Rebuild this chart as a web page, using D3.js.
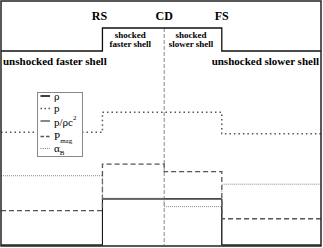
<!DOCTYPE html>
<html>
<head>
<meta charset="utf-8">
<script src="https://cdn.jsdelivr.net/npm/d3@7"></script>
<style>
  body { margin: 0; background: #fff; }
</style>
</head>
<body>
<div class="chart"></div>
<script>
// region boundaries along the shell (fraction of width): start, RS, CD, FS, end
const edges = [0, 0.317, 0.51, 0.69, 1];
const regionLabels = ["unshocked faster shell", "shocked faster shell", "shocked slower shell", "unshocked slower shell"];
const frontLabels = ["RS", "CD", "FS"];

// schematic density profile in the top strip (one value per region)
const topProfile = [1, 2, 2, 1];

// lower panel, one value per region (arbitrary units)
const rho = [0, 2.88, 2.88, 0];
const pRhoC2 = [0, 2.88, 2.88, 0];
const pressure = [7.05, 8.3, 8.3, 6.95];
const pMag = [2.15, 5.05, 4.58, 1.64];
const alphaB = [4.33, 2.92, 2.4, 3.8];

const legendNames = ["ρ", "p", "p/ρc", "P", "α"];

const width = 323;
const height = 248;
const serif = "'Liberation Serif', 'Times New Roman', 'DejaVu Serif', serif";

const svg = d3.select(".chart").append("svg")
    .attr("width", width)
    .attr("height", height)
    .attr("font-family", serif);

const xScale = d3.scaleLinear().domain([0, 1]).range([1, 321]);
const yTop = d3.scaleLinear().domain([0, 2]).range([74, 28]);
const yScale = d3.scaleLinear().domain([0, 10]).range([245, 85]);

// turn per-region values into step points
const steps = vals => vals.map((v, i) => [edges[i], v]).concat([[edges[4], vals[3]]]);

const topLine = d3.line()
    .x(d => xScale(d[0]))
    .y(d => yTop(d[1]))
    .curve(d3.curveStepAfter);

const line = d3.line()
    .x(d => xScale(d[0]))
    .y(d => yScale(d[1]))
    .curve(d3.curveStepAfter);

// contact discontinuity marker
svg.append("line")
    .attr("x1", xScale(edges[2])).attr("x2", xScale(edges[2]))
    .attr("y1", yTop(2)).attr("y2", yScale(0))
    .attr("stroke", "#888")
    .attr("stroke-width", 1)
    .attr("stroke-dasharray", "4,2");

// top schematic
svg.append("path")
    .attr("d", topLine(steps(topProfile)))
    .attr("fill", "none")
    .attr("stroke", "#111")
    .attr("stroke-width", 1.3);

// front labels above the steps
frontLabels.forEach((t, i) => {
    svg.append("text")
        .attr("x", xScale(edges[i + 1]) - (i === 0 ? 3 : 0))
        .attr("y", 20)
        .attr("text-anchor", "middle")
        .attr("font-weight", "bold")
        .attr("font-size", 12)
        .text(t);
});

// region labels
svg.append("text")
    .attr("x", 3).attr("y", 65)
    .attr("font-weight", "bold").attr("font-size", 11)
    .text(regionLabels[0]);
svg.append("text")
    .attr("x", 319).attr("y", 65)
    .attr("text-anchor", "end")
    .attr("font-weight", "bold").attr("font-size", 11)
    .text(regionLabels[3]);
[1, 2].forEach(i => {
    const words = regionLabels[i].split(" ");
    const cx = (xScale(edges[i]) + xScale(edges[i + 1])) / 2 - (i === 1 ? 3 : 2);
    const t = svg.append("text")
        .attr("text-anchor", "middle")
        .attr("font-weight", "bold")
        .attr("font-size", 9);
    t.append("tspan").attr("x", cx).attr("y", 38).text(words[0]);
    t.append("tspan").attr("x", cx).attr("y", 47).text(words.slice(1).join(" "));
});

// lower panel curves
const series = [
    { vals: pRhoC2, stroke: "#555", width: 1, dash: null },
    { vals: rho, stroke: "#111", width: 1, dash: null },
    { vals: pressure, stroke: "#555", width: 1.5, dash: "1.5,3" },
    { vals: pMag, stroke: "#555", width: 1.3, dash: "5,3" },
    { vals: alphaB, stroke: "#888", width: 1, dash: "1,1" }
];
series.forEach(s => {
    svg.append("path")
        .attr("d", line(steps(s.vals)))
        .attr("fill", "none")
        .attr("stroke", s.stroke)
        .attr("stroke-width", s.width)
        .attr("stroke-dasharray", s.dash);
});

// legend
const legend = svg.append("g");
legend.append("rect")
    .attr("x", 37.5).attr("y", 92.5)
    .attr("width", 45).attr("height", 64)
    .attr("fill", "#fff")
    .attr("stroke", "#888");
const legendStyles = [
    { y: 96, stroke: "#111", width: 1.6, dash: null },
    { y: 108.5, stroke: "#555", width: 1.3, dash: "1.5,2.5" },
    { y: 121, stroke: "#111", width: 1, dash: null },
    { y: 136.5, stroke: "#555", width: 1.3, dash: "3.5,2" },
    { y: 148.5, stroke: "#777", width: 1, dash: "1,1.2" }
];
legendStyles.forEach((s, i) => {
    legend.append("line")
        .attr("x1", 40.5).attr("x2", 50)
        .attr("y1", s.y).attr("y2", s.y)
        .attr("stroke", s.stroke)
        .attr("stroke-width", s.width)
        .attr("stroke-dasharray", s.dash);
    const t = legend.append("text")
        .attr("x", 54)
        .attr("y", s.y + (i === 2 ? 5 : 3.5))
        .attr("font-size", 11)
        .text(legendNames[i]);
    if (i === 2) t.append("tspan").attr("dy", -6).attr("font-size", 7).text("2");
    if (i === 3) t.append("tspan").attr("dy", 3).attr("font-size", 7).text("mag");
    if (i === 4) t.append("tspan").attr("dy", 3).attr("font-size", 7).text("B");
});

// frame
svg.append("rect")
    .attr("x", 1).attr("y", 1)
    .attr("width", 320).attr("height", 245)
    .attr("fill", "none")
    .attr("stroke", "#222")
    .attr("stroke-width", 1.5);
</script>
</body>
</html>
